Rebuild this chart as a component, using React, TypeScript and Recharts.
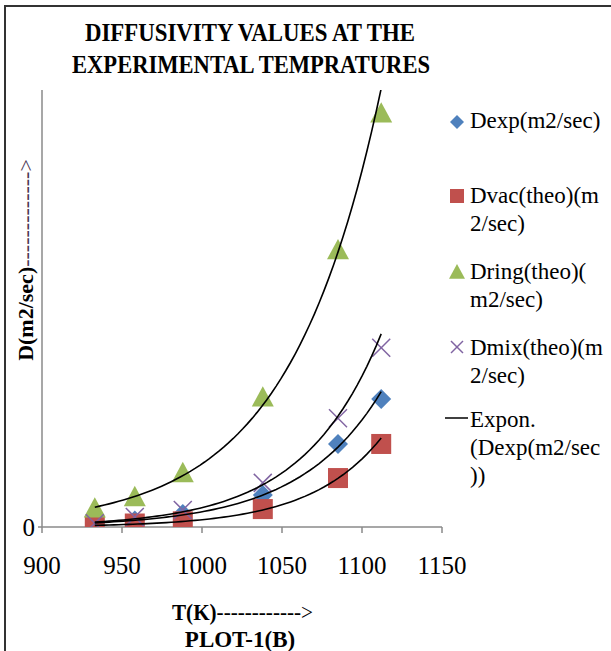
import React from 'react';
import { ScatterChart, Scatter, XAxis, YAxis, Legend } from 'recharts';

const temps = [933, 958, 988, 1038, 1085, 1112];
const dExp = [0.9, 1.5, 3.0, 7.3, 19.0, 29.3];
const dVac = [0.3, 0.8, 1.3, 4.1, 11.2, 19.0];
const dRing = [4.3, 6.9, 12.4, 29.7, 63.4, 94.7];
const dMix = [0.85, 2.3, 3.9, 10.1, 24.9, 41.0];

const xTicks = [900, 950, 1000, 1050, 1100, 1150];
const yTicks = [0];

const titleLines = ['DIFFUSIVITY  VALUES AT THE', 'EXPERIMENTAL TEMPRATURES'];
const legendLines = [
  ['Dexp(m2/sec)'],
  ['Dvac(theo)(m', '2/sec)'],
  ['Dring(theo)(', 'm2/sec)'],
  ['Dmix(theo)(m', '2/sec)'],
  ['Expon.', '(Dexp(m2/sec', '))'],
];

const SERIF = "'Times New Roman', 'Liberation Serif', serif";
const BLUE = '#4F81BD';
const RED = '#C0504D';
const GREEN = '#9BBB59';
const PURPLE = '#8064A2';

const toPoints = (ys: number[]) => temps.map((x, i) => ({ x, y: ys[i] }));

// excel style exponential trendline: least squares on ln(y)
function expTrend(ys: number[]) {
  const n = temps.length;
  const ly = ys.map((v) => Math.log(v));
  const mx = temps.reduce((a, b) => a + b, 0) / n;
  const my = ly.reduce((a, b) => a + b, 0) / n;
  let sxy = 0;
  let sxx = 0;
  temps.forEach((x, i) => {
    sxy += (x - mx) * (ly[i] - my);
    sxx += (x - mx) * (x - mx);
  });
  const b = sxy / sxx;
  const lnA = my - b * mx;
  const x0 = Math.min(...temps);
  const x1 = Math.max(...temps);
  const pts = [];
  for (let i = 0; i <= 60; i++) {
    const x = x0 + ((x1 - x0) * i) / 60;
    pts.push({ x, y: Math.exp(lnA + b * x) });
  }
  return pts;
}

const Diamond = ({ cx, cy, s = 10 }: any) => (
  <polygon points={`${cx},${cy - s} ${cx + s},${cy} ${cx},${cy + s} ${cx - s},${cy}`} fill={BLUE} />
);
const Square = ({ cx, cy, s = 10 }: any) => (
  <rect x={cx - s} y={cy - s} width={s * 2} height={s * 2} fill={RED} />
);
const Triangle = ({ cx, cy, s = 11 }: any) => (
  <polygon points={`${cx},${cy - s} ${cx + s},${cy + s * 0.85} ${cx - s},${cy + s * 0.85}`} fill={GREEN} />
);
const Cross = ({ cx, cy, s = 9 }: any) => (
  <g stroke={PURPLE} strokeWidth={1.5}>
    <line x1={cx - s} y1={cy - s} x2={cx + s} y2={cy + s} />
    <line x1={cx - s} y1={cy + s} x2={cx + s} y2={cy - s} />
  </g>
);
const Nothing = () => <g />;

const renderLegend = () => {
  const ox = 440;
  const oy = 100;
  const markerY = [122, 196, 272, 347, 418];
  const firstBase = [128, 203, 279, 355, 427];
  const mx = 457 - ox;
  return (
    <svg width={171} height={420} style={{ overflow: 'visible' }}>
      <Diamond cx={mx} cy={markerY[0] - oy} s={7} />
      <Square cx={mx} cy={markerY[1] - oy} s={7} />
      <Triangle cx={mx} cy={markerY[2] - oy} s={8} />
      <Cross cx={mx} cy={markerY[3] - oy} s={6} />
      <line x1={445 - ox} x2={468 - ox} y1={markerY[4] - oy} y2={markerY[4] - oy} stroke="#000" strokeWidth={1.5} />
      {legendLines.map((lines, i) => (
        <text key={i} x={470 - ox} y={firstBase[i] - oy} fontFamily={SERIF} fontSize={23} fill="#000">
          {lines.map((t, j) => (
            <tspan key={j} x={470 - ox} dy={j === 0 ? 0 : 28}>
              {t}
            </tspan>
          ))}
        </text>
      ))}
    </svg>
  );
};

export default function App() {
  const tickStyle = { fontSize: 25, fill: '#000', fontFamily: SERIF };
  return (
    <div style={{ position: 'absolute', left: 0, top: 0, width: 611, height: 651, background: '#fff' }}>
      <ScatterChart width={611} height={651} margin={{ top: 90, right: 169, left: 0, bottom: 84 }}>
        <rect x={5} y={6} width={700} height={700} fill="none" stroke="#333" strokeWidth={2} />
        <XAxis
          type="number"
          dataKey="x"
          domain={[900, 1150]}
          ticks={xTicks}
          allowDataOverflow
          height={40}
          tickSize={6}
          tickMargin={23}
          tick={tickStyle}
          axisLine={{ stroke: '#8a8a8a', strokeWidth: 1.5 }}
          tickLine={{ stroke: '#8a8a8a', strokeWidth: 1.5 }}
        />
        <YAxis
          type="number"
          dataKey="y"
          domain={[0, 100]}
          ticks={yTicks}
          allowDataOverflow
          width={42}
          tickSize={4}
          tickMargin={3}
          tick={tickStyle}
          axisLine={{ stroke: '#8a8a8a', strokeWidth: 1.5 }}
          tickLine={{ stroke: '#8a8a8a', strokeWidth: 1.5 }}
        />
        <Scatter name="Dexp(m2/sec)" data={toPoints(dExp)} shape={Diamond} isAnimationActive={false} />
        <Scatter name="Dvac(theo)(m2/sec)" data={toPoints(dVac)} shape={Square} isAnimationActive={false} />
        <Scatter name="Dring(theo)(m2/sec)" data={toPoints(dRing)} shape={Triangle} isAnimationActive={false} />
        <Scatter name="Dmix(theo)(m2/sec)" data={toPoints(dMix)} shape={Cross} isAnimationActive={false} />
        {[dExp, dVac, dRing, dMix].map((ys, i) => (
          <Scatter
            key={i}
            data={expTrend(ys)}
            line={{ stroke: '#000', strokeWidth: 1.6 }}
            shape={Nothing}
            legendType="none"
            isAnimationActive={false}
          />
        ))}
        <Legend
          layout="horizontal"
          verticalAlign="middle"
          align="center"
          content={renderLegend}
          wrapperStyle={{ left: 440, top: 100, width: 171, height: 420 }}
        />
        <text fontFamily={SERIF} fontWeight="bold" fontSize={26} fill="#000" textAnchor="middle">
          <tspan x={250} y={41} textLength={330} lengthAdjust="spacingAndGlyphs">
            {titleLines[0]}
          </tspan>
          <tspan x={251} y={73} textLength={358} lengthAdjust="spacingAndGlyphs">
            {titleLines[1]}
          </tspan>
        </text>
        <text
          x={25}
          y={260}
          dy="0.35em"
          transform="rotate(-90, 25, 260)"
          textAnchor="middle"
          fontFamily={SERIF}
          fontSize={22}
          fill="#000"
        >
          <tspan fontWeight="bold">D(m2/sec)</tspan>
          <tspan fill="#4a3350">{'------------->'}</tspan>
        </text>
        <text x={172} y={620} fontFamily={SERIF} fontSize={23} fill="#000" textLength={141} lengthAdjust="spacingAndGlyphs">
          <tspan fontWeight="bold">T(K)</tspan>
          <tspan>{'------------>'}</tspan>
        </text>
        <text x={240} y={647} fontFamily={SERIF} fontWeight="bold" fontSize={23} fill="#000" textAnchor="middle">
          PLOT-1(B)
        </text>
      </ScatterChart>
    </div>
  );
}
